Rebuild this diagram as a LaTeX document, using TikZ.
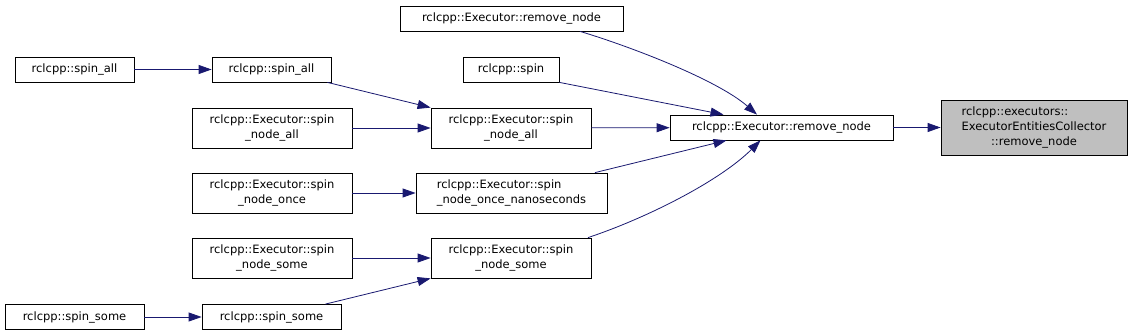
\documentclass[tikz,border=0pt]{standalone}
\usepackage{fontspec}
\setmainfont{DejaVu Sans}
\usepackage{calc}
\usetikzlibrary{arrows.meta, calc}
\definecolor{edgeblue}{HTML}{191970}
\definecolor{hlgray}{HTML}{BFBFBF}
\tikzset{
  fn/.style={draw=black, line width=0.8pt, fill=white, font=\fontsize{11.5}{15}\selectfont,
             align=center, inner sep=0pt, minimum height=25pt},
  fn2/.style={fn, minimum height=40pt},
  call/.style={draw=edgeblue, line width=0.8pt, -{Triangle[length=13pt,width=9pt]}}
}

\begin{document}
\begin{tikzpicture}[x=1pt, y=-1pt]
  \useasboundingbox (0,0) rectangle (1132,336);
  % callers, left column
  \node[fn, minimum width=119pt] (allL) at (74.5,69.5) {rclcpp::spin\_all};
  \node[fn, minimum width=139pt] (someL) at (74.5,317) {rclcpp::spin\_some};
  % second column
  \node[fn, minimum width=119pt] (allM) at (271.5,69.5) {rclcpp::spin\_all};
  \node[fn2, minimum width=160pt] (snallL) at (272,128) {rclcpp::Executor::spin\\\_node\_all};
  \node[fn2, minimum width=160pt] (snonceL) at (272,193) {rclcpp::Executor::spin\\\_node\_once};
  \node[fn2, minimum width=160pt] (snsomeL) at (272,258) {rclcpp::Executor::spin\\\_node\_some};
  \node[fn, minimum width=139pt] (someM) at (271.5,317) {rclcpp::spin\_some};
  % third column
  \node[fn, minimum width=223pt] (rmtop) at (511.5,18.5) {rclcpp::Executor::remove\_node};
  \node[fn, minimum width=96pt] (spin) at (511,69.5) {rclcpp::spin};
  \node[fn2, minimum width=160pt] (snallM) at (511,128) {rclcpp::Executor::spin\\\_node\_all};
  \node[fn2, minimum width=191pt] (snnano) at (511.5,193)
    {\makebox[\widthof{\_node\_once\_nanoseconds}][l]{rclcpp::Executor::spin}\\\_node\_once\_nanoseconds};
  \node[fn2, minimum width=160pt] (snsomeM) at (511,258) {rclcpp::Executor::spin\\\_node\_some};
  % fourth column
  \node[fn, minimum width=223pt] (rmmid) at (781.5,127.5) {rclcpp::Executor::remove\_node};
  \node[fn, fill=hlgray, minimum width=186pt, minimum height=55pt] (target) at (1034,127.5)
    {\makebox[\widthof{ExecutorEntitiesCollector}][l]{rclcpp::executors::}\\ExecutorEntitiesCollector\\::remove\_node};

  \draw[call] (allL) -- (allM);
  \draw[call] ($(allM.south east)+(-4,0)$) -- (snallM.north west);
  \draw[call] (snallL) -- (snallM);
  \draw[call] (snonceL) -- (snnano);
  \draw[call] (snsomeL) -- (snsomeM);
  \draw[call] (someL) -- (someM);
  \draw[call] ($(someM.north east)+(-16,0)$) -- (snsomeM.south west);
  \draw[call] ($(rmtop.south)+(68.5,0)$) .. controls +(50,15) and +(-40,-35) .. ($(rmmid.north)+(-24.5,0)$);
  \draw[call] (spin.south east) -- ($(rmmid.north)+(-58,0)$);
  \draw[call] (snallM) -- (rmmid);
  \draw[call] ($(snnano.north)+(83.5,0)$) -- ($(rmmid.south)+(-55,0)$);
  \draw[call] ($(snsomeM.north)+(77,0)$) .. controls +(60,-20) and +(-40,40) .. ($(rmmid.south)+(-21,0)$);
  \draw[call] (rmmid) -- (target);
\end{tikzpicture}
\end{document}
